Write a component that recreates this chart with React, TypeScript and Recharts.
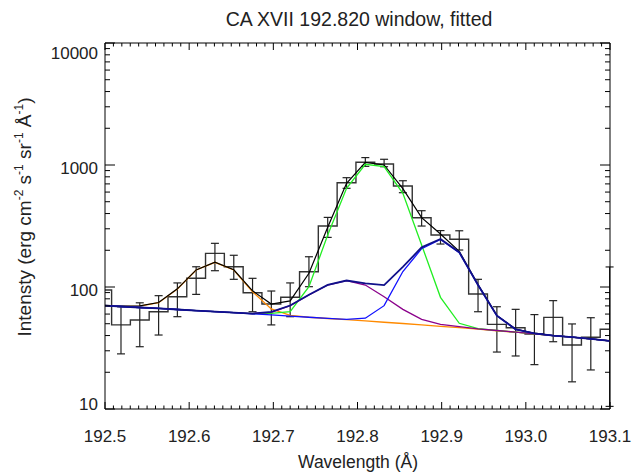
import React from 'react';
import { ComposedChart, Line, XAxis, YAxis, ErrorBar, Label } from 'recharts';

// ---- data ----
const wavelength = [192.4967, 192.519, 192.5413, 192.5637, 192.586, 192.6083, 192.6306, 192.653, 192.6753, 192.6976, 192.72, 192.7423, 192.7646, 192.787, 192.8093, 192.8316, 192.8539, 192.8762, 192.8986, 192.9209, 192.9432, 192.9656, 192.9879, 193.0102, 193.0325, 193.0549, 193.0772, 193.0995];
const observed = [94.5, 48.9, 53.6, 62.7, 83.3, 117.8, 188.8, 146.5, 89.8, 72.6, 82.3, 133.5, 316, 716, 1052, 1019, 673, 370, 267, 246, 87.7, 49.4, 46.4, 41.2, 56.4, 33.5, 38.7, 45];
const errorLow = [70, 28.3, 32.4, 40.4, 57.1, 87, 136, 115.6, 62.7, 48.9, 57.1, 100.6, 255, 644, 975, 968, 593, 316, 225, 201, 62.7, 29.3, 27.2, 23.1, 35.6, 16.7, 20.9, 10.5];
const errorHigh = [120, 68.9, 74.2, 84.9, 108, 146.5, 228, 182, 117.8, 92.7, 108, 177, 372, 787, 1150, 1114, 743, 422, 290, 289, 115.6, 68.9, 65.6, 59.4, 77.3, 49.8, 56, 146];
const fitTotal = [70.8, 69.8, 70.0, 74.6, 96.6, 138, 160, 138.5, 93, 72.5, 77, 129.5, 308.5, 708, 1052, 1000, 640, 370, 272, 196, 104.5, 58.5, 45.2, 41.8, 40.0, 38.8, 37.6, 36.2];
const fitLine1 = [70.6, 69.5, 69.6, 74.3, 96.3, 137.8, 159.4, 137.8, 91.5, 66.1, 58.5, 56.5, 55.2, 54.0, 52.7, 51.4, 50.2, 48.9, 47.6, 46.4, 45.1, 43.8, 42.6, 41.3, 40.0, 38.8, 37.5, 36.2];
const fitMain = [70.5, 69.2, 67.9, 66.7, 65.4, 64.1, 62.9, 61.6, 60.4, 60.9, 62.8, 100.6, 267, 644, 1014, 968, 586, 221, 82.3, 50.4, 45.6, 44.0, 42.6, 41.3, 40.0, 38.8, 37.5, 36.2];
const fitBlendA = [70.5, 69.2, 67.9, 66.7, 65.4, 64.1, 62.9, 61.7, 60.6, 62.0, 70.3, 86.0, 103.8, 112.6, 103.8, 83.3, 65.6, 54.3, 49.4, 47.3, 45.4, 44.0, 42.6, 41.3, 40.0, 38.8, 37.5, 36.2];
const fitBlendB = [70.5, 69.2, 67.9, 66.7, 65.4, 64.1, 62.9, 61.6, 60.3, 59.1, 57.8, 56.5, 55.3, 54.3, 55.5, 70.3, 134, 206, 245, 191, 103.5, 58.0, 44.9, 41.6, 40.0, 38.8, 37.5, 36.2];
const fitBlends = [70.5, 69.2, 67.9, 66.7, 65.4, 64.1, 62.9, 61.7, 60.6, 62.5, 70.5, 86.5, 104, 113, 107.2, 103.8, 146, 211.5, 247.4, 193, 103.8, 58.2, 45.0, 41.7, 40.0, 38.8, 37.6, 36.2];

const xMajorTicks = [192.5, 192.6, 192.7, 192.8, 192.9, 193.0, 193.1];
const xTickLabels = ['192.5', '192.6', '192.7', '192.8', '192.9', '193.0', '193.1'];
const yMajorTicks = [10, 100, 1000, 10000];
const yTickLabels = ['10', '100', '1000', '10000'];
const yLabelShift = [1, 9.4, 9, 16];

const TITLE = 'CA XVII 192.820 window, fitted';
const X_TITLE = 'Wavelength (Å)';

// minor tick positions (axis decoration)
const xTicks: number[] = [];
for (let i = 0; i < xMajorTicks.length; i++) {
  xTicks.push(xMajorTicks[i]);
  if (i < xMajorTicks.length - 1) {
    for (let k = 1; k < 10; k++) xTicks.push(Number((xMajorTicks[i] + k * 0.01).toFixed(3)));
  }
}
const yTicks: number[] = [];
for (let i = 0; i < yMajorTicks.length; i++) {
  yTicks.push(yMajorTicks[i]);
  if (i < yMajorTicks.length - 1) {
    for (let m = 2; m < 10; m++) yTicks.push(yMajorTicks[i] * m);
  }
}

const rows = wavelength.map((lam, i) => ({
  lam,
  obs: observed[i],
  total: fitTotal[i],
  line1: fitLine1[i],
  main: fitMain[i],
  blendA: fitBlendA[i],
  blendB: fitBlendB[i],
  blends: fitBlends[i],
  err: [observed[i] - errorLow[i], errorHigh[i] - observed[i]],
}));
const errRows = rows.filter((r) => r.lam >= xMajorTicks[0]);

const FONT = '"Liberation Sans", Arial, Helvetica, sans-serif';
const TXT = '#222';

const xMajorIndex = (v: number) => xMajorTicks.findIndex((m) => Math.abs(m - v) < 1e-6);
const yMajorIndex = (v: number) => yMajorTicks.findIndex((m) => Math.abs(m - v) < 1e-6);

function BottomTick(props: any) {
  const { x, y, payload } = props;
  const idx = xMajorIndex(payload.value);
  const major = idx >= 0;
  return (
    <g>
      <line x1={x} x2={x} y1={y} y2={y - (major ? 7 : 3.5)} stroke="#000" strokeWidth={1} />
      {major && (
        <text x={x} y={y + 33} textAnchor="middle" fontSize={17} fontFamily={FONT} fill={TXT}>
          {xTickLabels[idx]}
        </text>
      )}
    </g>
  );
}
function TopTick(props: any) {
  const { x, y, payload } = props;
  const major = xMajorIndex(payload.value) >= 0;
  return <line x1={x} x2={x} y1={y} y2={y + (major ? 7 : 3.5)} stroke="#000" strokeWidth={1} />;
}
function LeftTick(props: any) {
  const { x, y, payload } = props;
  const idx = yMajorIndex(payload.value);
  const major = idx >= 0;
  return (
    <g>
      <line x1={x} x2={x + (major ? 10 : 5)} y1={y} y2={y} stroke="#000" strokeWidth={1} />
      {major && (
        <text x={x - 7} y={y + yLabelShift[idx]} textAnchor="end" fontSize={17} fontFamily={FONT} fill={TXT}>
          {yTickLabels[idx]}
        </text>
      )}
    </g>
  );
}
function RightTick(props: any) {
  const { x, y, payload } = props;
  const major = yMajorIndex(payload.value) >= 0;
  return <line x1={x} x2={x - (major ? 10 : 5)} y1={y} y2={y} stroke="#000" strokeWidth={1} />;
}

const TitleContent = () => (
  <text x={359} y={26} textAnchor="middle" fontSize={19.5} fontFamily={FONT} fill={TXT}>
    {TITLE}
  </text>
);
const XTitleContent = () => (
  <text x={358} y={468} textAnchor="middle" fontSize={17.5} fontFamily={FONT} fill={TXT}>
    {X_TITLE}
  </text>
);
const YTitleContent = () => (
  <text transform="translate(31, 217) rotate(-90)" textAnchor="middle" fontSize={19} fontFamily={FONT} fill={TXT}>
    Intensty (erg cm
    <tspan dy={-8} fontSize={12}>-2</tspan>
    <tspan dy={8}> s</tspan>
    <tspan dy={-8} fontSize={12}>-1</tspan>
    <tspan dy={8}> sr</tspan>
    <tspan dy={-8} fontSize={12}>-1</tspan>
    <tspan dy={8}> Å</tspan>
    <tspan dy={-8} fontSize={12}>-1</tspan>
    <tspan dy={8}>)</tspan>
  </text>
);

const axisCommon = {
  tickSize: 0,
  tickMargin: 0,
  tickLine: false,
  interval: 0 as const,
  axisLine: { stroke: '#000', strokeWidth: 1 },
};

export default function App() {
  return (
    <div style={{ position: 'absolute', left: 0, top: 0, background: '#fff' }}>
      <ComposedChart width={633} height={473} data={rows} margin={{ top: 0, right: 0, bottom: 0, left: 0 }}>
        <XAxis
          xAxisId="bottom"
          dataKey="lam"
          type="number"
          domain={[192.5, 193.1]}
          allowDataOverflow
          ticks={xTicks}
          tick={BottomTick}
          height={64}
          {...axisCommon}
        >
          <Label content={XTitleContent} />
        </XAxis>
        <XAxis
          xAxisId="top"
          orientation="top"
          dataKey="lam"
          type="number"
          domain={[192.5, 193.1]}
          allowDataOverflow
          ticks={xTicks}
          tick={TopTick}
          height={43}
          {...axisCommon}
        >
          <Label content={TitleContent} />
        </XAxis>
        <YAxis
          yAxisId="left"
          type="number"
          scale="log"
          domain={[10, 10000]}
          allowDataOverflow
          ticks={yTicks}
          tick={LeftTick}
          width={105}
          {...axisCommon}
        >
          <Label content={YTitleContent} />
        </YAxis>
        <YAxis
          yAxisId="right"
          orientation="right"
          type="number"
          scale="log"
          domain={[10, 10000]}
          allowDataOverflow
          ticks={yTicks}
          tick={RightTick}
          width={23}
          {...axisCommon}
        />
        <Line xAxisId="bottom" yAxisId="left" type="step" dataKey="obs" stroke="#333" strokeWidth={1.4} dot={false} activeDot={false} isAnimationActive={false} />
        <Line xAxisId="bottom" yAxisId="left" data={errRows} dataKey="obs" stroke="none" dot={false} activeDot={false} isAnimationActive={false}>
          <ErrorBar dataKey="err" direction="y" width={4} stroke="#222" strokeWidth={1.2} isAnimationActive={false} />
        </Line>
        <Line xAxisId="bottom" yAxisId="left" type="linear" dataKey="line1" stroke="#ff8a00" strokeWidth={1.3} dot={false} activeDot={false} isAnimationActive={false} />
        <Line xAxisId="bottom" yAxisId="left" type="linear" dataKey="total" stroke="#000" strokeWidth={1.2} dot={false} activeDot={false} isAnimationActive={false} />
        <Line xAxisId="bottom" yAxisId="left" type="linear" dataKey="main" stroke="#22ee22" strokeWidth={1.3} dot={false} activeDot={false} isAnimationActive={false} />
        <Line xAxisId="bottom" yAxisId="left" type="linear" dataKey="blendA" stroke="#8b008b" strokeWidth={1.3} dot={false} activeDot={false} isAnimationActive={false} />
        <Line xAxisId="bottom" yAxisId="left" type="linear" dataKey="blendB" stroke="#1010ff" strokeWidth={1.3} dot={false} activeDot={false} isAnimationActive={false} />
        <Line xAxisId="bottom" yAxisId="left" type="linear" dataKey="blends" stroke="#10108a" strokeWidth={1.8} dot={false} activeDot={false} isAnimationActive={false} />
      </ComposedChart>
    </div>
  );
}
